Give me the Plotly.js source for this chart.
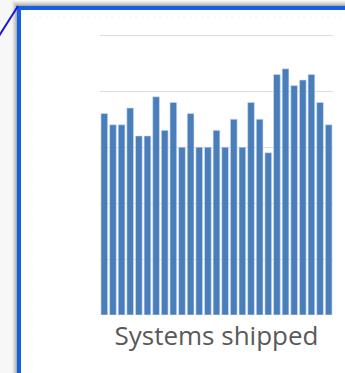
<!DOCTYPE html>
<html>
<head>
<meta charset="utf-8">
<script src="https://cdn.plot.ly/plotly-3.0.1.min.js"></script>
<style>
  html, body { margin: 0; padding: 0; background: #f7f7f7; }
  #chart { width: 345px; height: 373px; }
</style>
</head>
<body>
<div id="chart"></div>
<script>
// Data (units: arbitrary, gridline step = 10)
const categories = ["1","2","3","4","5","6","7","8","9","10","11","12","13","14","15","16","17","18","19","20","21","22","23","24","25","26","27"];
const shipped = [36, 34, 34, 37, 32, 32, 39, 33, 38, 30, 36, 30, 30, 33, 30, 35, 30, 38, 35, 29, 43, 44, 41, 42, 43, 38, 34];
const axisTitle = "Systems shipped";

// Layout geometry (pixels)
const W = 345, H = 373;
const L = 100, R = 12, T = 33, B = 58;
const PW = W - L - R, PH = H - T - B;
const px = v => (v - L) / PW;          // pixel x -> paper x
const py = v => (H - B - v) / PH;      // pixel y -> paper y

const shapes = [];
// soft shadow around the frame
const shadowSteps = [[5, 0.04], [4, 0.05], [3, 0.06], [2, 0.08], [1, 0.1]];
shadowSteps.forEach(([o, a]) => {
  shapes.push({type: 'rect', xref: 'paper', yref: 'paper', layer: 'below',
    x0: px(17 - o), x1: px(W + 20), y0: py(H + 20), y1: py(6 - o),
    fillcolor: 'rgba(0,0,0,' + a + ')', line: {width: 0}});
});
// white frame with bright blue border
shapes.push({type: 'rect', xref: 'paper', yref: 'paper', layer: 'below',
  x0: px(19), x1: px(W + 20), y0: py(H + 20), y1: py(8),
  fillcolor: '#ffffff', line: {color: '#1560e0', width: 4}});
// faint inner chart-area border
shapes.push({type: 'rect', xref: 'paper', yref: 'paper', layer: 'below',
  x0: px(32), x1: px(W + 20), y0: py(H + 20), y1: py(17),
  fillcolor: 'rgba(0,0,0,0)', line: {color: '#f6f6f6', width: 1, dash: 'dot'}});
// diagonal connector line
shapes.push({type: 'line', xref: 'paper', yref: 'paper', layer: 'above',
  x0: px(-1), y0: py(36), x1: px(18), y1: py(6),
  line: {color: '#1a1ad0', width: 2}});

const trace = {
  type: 'bar',
  x: categories,
  y: shipped,
  marker: {color: '#4a7ebb', line: {color: '#d6e3f3', width: 0.6}},
  hoverinfo: 'skip'
};

const layout = {
  width: W, height: H,
  margin: {l: L, r: R, t: T, b: B, pad: 0},
  paper_bgcolor: '#f7f7f7',
  plot_bgcolor: 'rgba(0,0,0,0)',
  showlegend: false,
  bargap: 0.22,
  xaxis: {
    type: 'category',
    showticklabels: false, ticks: '', showgrid: false, showline: false, zeroline: false,
    title: {text: axisTitle, font: {family: '"Open Sans", sans-serif', size: 26, color: '#595959'}, standoff: 11}
  },
  yaxis: {
    range: [0, 50.4], dtick: 10,
    showticklabels: false, ticks: '', showline: false, zeroline: false,
    showgrid: true, gridcolor: '#dcdcdc', gridwidth: 1
  },
  shapes: shapes
};

Plotly.newPlot('chart', [trace], layout, {displayModeBar: false, staticPlot: true});
</script>
</body>
</html>
